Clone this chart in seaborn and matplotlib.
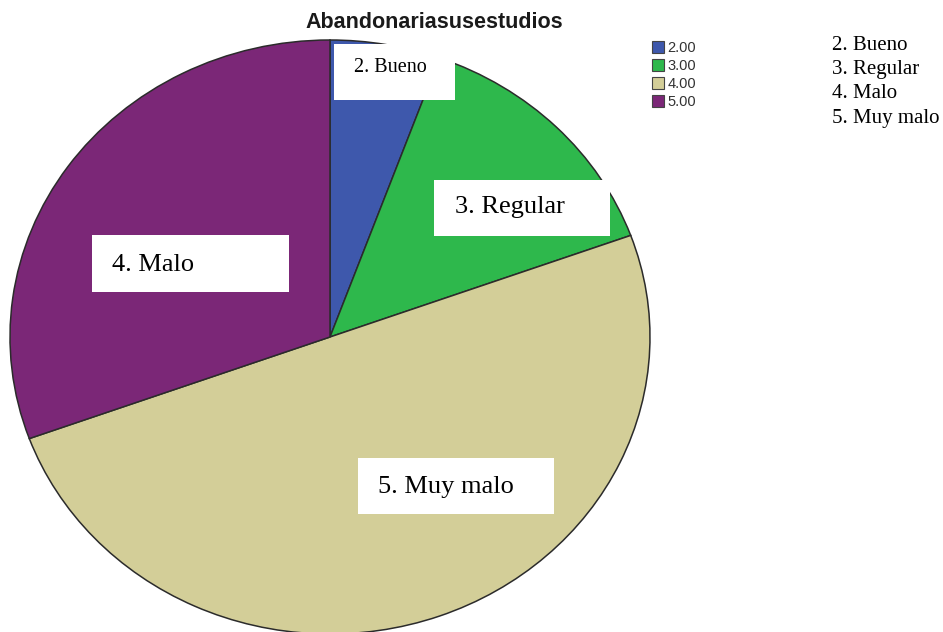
import matplotlib
matplotlib.use("Agg")
import matplotlib.pyplot as plt
import seaborn as sns
from matplotlib.patches import Patch, Rectangle

# data
categories = ["2.00", "3.00", "4.00", "5.00"]
counts = [2, 5, 18, 11]
value_labels = ["2. Bueno", "3. Regular", "4. Malo", "5. Muy malo"]
title = "Abandonariasusestudios"

sns.set_style("white")
colors = sns.color_palette(["#3E58AC", "#2EB84C", "#D3CE98", "#7B2777"])

W, H = 943, 632
fig = plt.figure(figsize=(W / 100, H / 100), dpi=100)


def px(x, y):
    # pixel coords (from top left) -> figure fraction
    return x / W, 1 - y / H


# pie area in pixels: x 10..650, y 40..634 (stretched, like the original)
ax = fig.add_axes([10 / W, -2 / H, 640 / W, 594 / H])
ax.pie(counts, colors=colors, startangle=90, counterclock=False,
       wedgeprops=dict(edgecolor="#2b2b2b", linewidth=1.1))
ax.set_aspect("auto")
ax.set_xlim(-1, 1)
ax.set_ylim(-1, 1)
ax.axis("off")
for p in ax.patches:
    p.set_clip_on(False)

fig.text(*px(434, 23), title, ha="center", va="center",
         fontsize=15.5, fontweight="bold", family="Liberation Sans", color="#1a1a1a")

# legend of the pie
handles = [Patch(facecolor=c, edgecolor="#444444", linewidth=0.8) for c in colors]
fig.legend(handles, categories, loc="upper left", bbox_to_anchor=px(652, 41),
           frameon=False, handlelength=0.85, handleheight=0.85, handletextpad=0.2,
           labelspacing=0.28, borderpad=0, borderaxespad=0,
           prop=dict(family="Liberation Sans", size=10.5), labelcolor="#333333")

# white label boxes drawn over the pie
boxes = [(334, 44, 121, 56), (434, 180, 176, 56), (92, 235, 197, 57), (358, 458, 196, 56)]
text_pos = [(354, 67, 14.5), (455, 207, 19), (112, 265, 19), (378, 487, 19)]
for (bx, by, bw, bh), (tx, ty, fs), lab in zip(boxes, text_pos, value_labels):
    x0, y0 = px(bx, by + bh)
    fig.add_artist(Rectangle((x0, y0), bw / W, bh / H, transform=fig.transFigure,
                             facecolor="white", edgecolor="none", zorder=5))
    fig.text(*px(tx, ty), lab, ha="left", va="center", fontsize=fs,
             family="Liberation Serif", color="black", zorder=6)

# value key on the right
for i, lab in enumerate(value_labels):
    fig.text(*px(832, 45 + i * 24.5), lab, ha="left", va="center",
             fontsize=15, family="Liberation Serif", color="black")

fig.savefig("out.png", dpi=100)
